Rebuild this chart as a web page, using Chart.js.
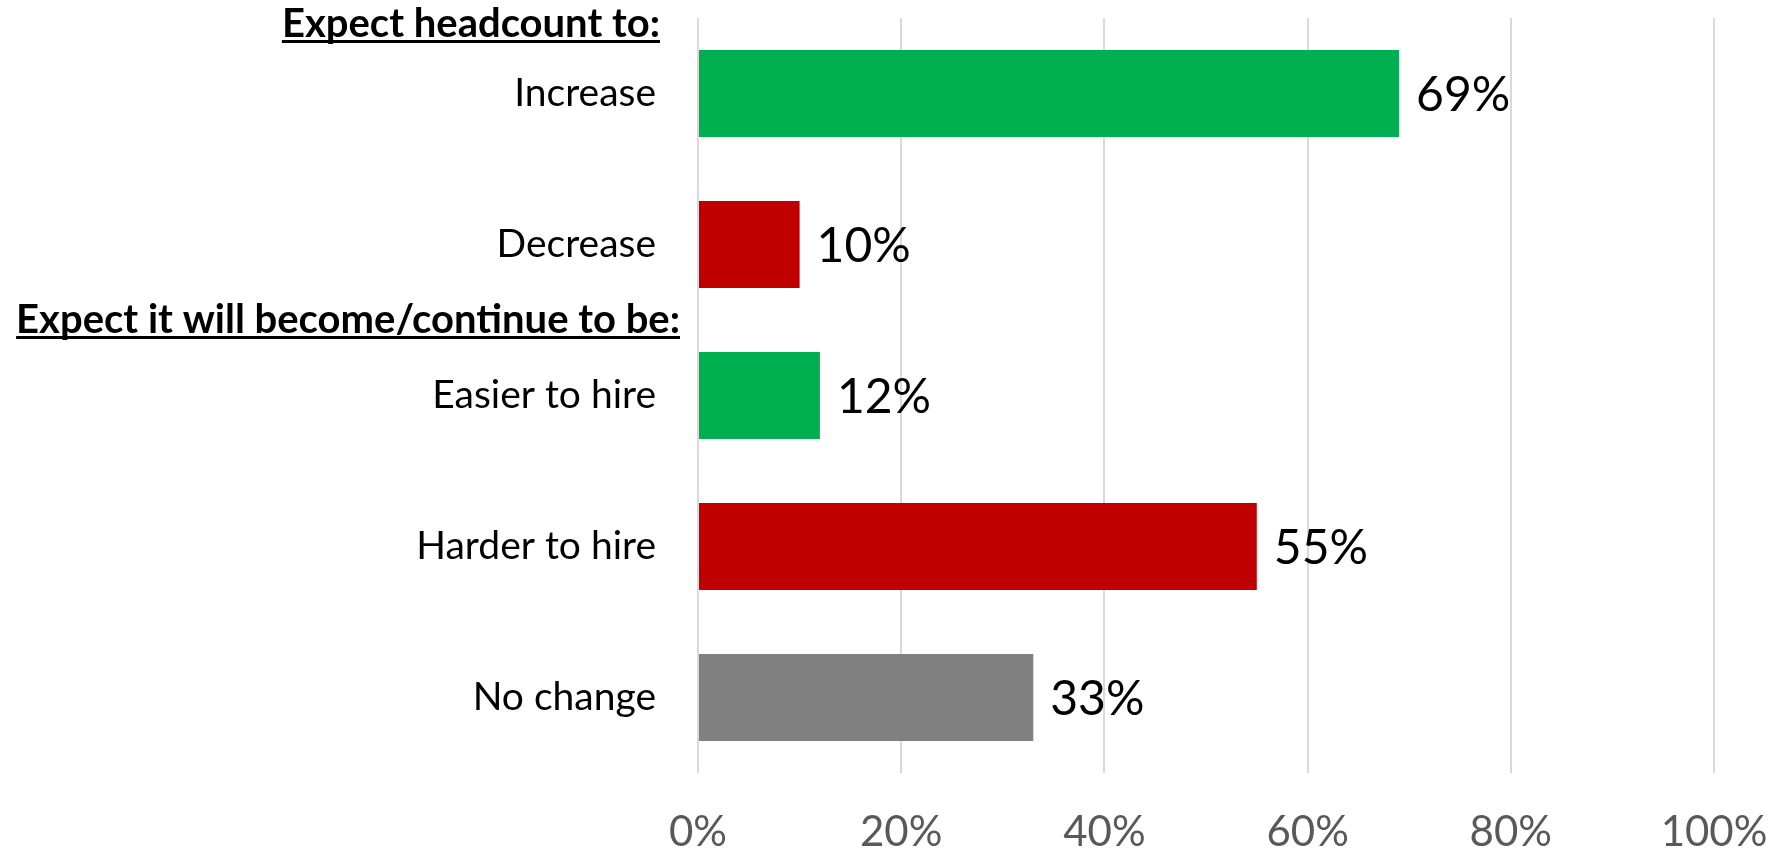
<!DOCTYPE html>
<html>
<head>
<meta charset="utf-8">
<script src="https://cdn.jsdelivr.net/npm/chart.js@4/dist/chart.umd.min.js"></script>
<style>
    html, body { margin: 0; padding: 0; background: #ffffff; }
    #wrap { width: 1785px; height: 854px; }
</style>
</head>
<body>
<div id="wrap"><canvas id="hiringChart" width="1785" height="854"></canvas></div>
<script>
// ============================================================================
// HEADCOUNT / HIRING EXPECTATIONS BAR CHART
// ============================================================================

const categories = ['Increase', 'Decrease', 'Easier to hire', 'Harder to hire', 'No change'];
const values = [69, 10, 12, 55, 33];
const barColors = ['#00B050', '#C00000', '#00B050', '#C00000', '#808080'];
const xTicks = [0, 20, 40, 60, 80, 100];
// group headers drawn above a category (index = category they sit above)
const groupHeaders = [
    { text: 'Expect headcount to:', before: 0 },
    { text: 'Expect it will become/continue to be:', before: 2 }
];

const FONT = 'Lato, "Open Sans", sans-serif';

// value labels at the end of each bar
const valueLabels = {
    id: 'valueLabels',
    afterDatasetsDraw(chart) {
        const ctx = chart.ctx;
        const meta = chart.getDatasetMeta(0);
        ctx.save();
        ctx.font = `48px ${FONT}`;
        ctx.fillStyle = '#000000';
        ctx.textAlign = 'left';
        ctx.textBaseline = 'middle';
        meta.data.forEach((bar, i) => {
            ctx.fillText(values[i] + '%', bar.x + 17, bar.y + 2);
        });
        ctx.restore();
    }
};

// bold underlined group headers in the label column
const headers = {
    id: 'headers',
    afterDraw(chart) {
        const ctx = chart.ctx;
        const yScale = chart.scales.y;
        const left = chart.chartArea.left;
        ctx.save();
        ctx.font = `bold 40px ${FONT}`;
        ctx.fillStyle = '#000000';
        ctx.textAlign = 'right';
        ctx.textBaseline = 'middle';
        groupHeaders.forEach(h => {
            let y, right;
            if (h.before === 0) {
                y = chart.chartArea.top + 6;
                right = left - 38;
            } else {
                y = yScale.getPixelForValue(h.before - 0.5);
                right = left - 18;
            }
            ctx.fillText(h.text, right, y);
            const w = ctx.measureText(h.text).width;
            ctx.fillRect(right - w, y + 16, w, 3);
        });
        ctx.restore();
    }
};

function renderChart(canvasId) {
    const ctx = document.getElementById(canvasId)?.getContext('2d');
    if (!ctx) {
        console.warn(`Canvas with id '${canvasId}' not found`);
        return null;
    }

    const chartData = {
        labels: categories,
        datasets: [{
            data: values,
            backgroundColor: barColors,
            borderWidth: 0,
            barPercentage: 1,
            categoryPercentage: 0.576
        }]
    };

    const options = {
        indexAxis: 'y',
        responsive: false,
        animation: false,
        layout: {
            padding: { top: 18, right: 71, left: 0, bottom: 0 }
        },
        plugins: {
            legend: { display: false },
            tooltip: { enabled: false }
        },
        scales: {
            x: {
                min: 0,
                max: 100,
                afterBuildTicks: scale => {
                    scale.ticks = xTicks.map(v => ({ value: v }));
                },
                afterFit: scale => {
                    scale.height = 81;
                    scale.paddingLeft = 0;
                    scale.paddingRight = 0;
                },
                border: { display: false },
                grid: {
                    color: '#d9d9d9',
                    lineWidth: 2,
                    drawTicks: false
                },
                ticks: {
                    color: '#595959',
                    padding: 34,
                    font: { family: FONT, size: 42 },
                    callback: v => v + '%'
                }
            },
            y: {
                afterFit: scale => {
                    scale.width = 698;
                    scale.paddingTop = 0;
                    scale.paddingBottom = 0;
                },
                border: { display: false },
                grid: { display: false, drawTicks: false },
                ticks: {
                    color: '#000000',
                    padding: 42,
                    font: { family: FONT, size: 39 }
                }
            }
        }
    };

    return new Chart(ctx, {
        type: 'bar',
        data: chartData,
        options: options,
        plugins: [valueLabels, headers]
    });
}

renderChart('hiringChart');
</script>
</body>
</html>
